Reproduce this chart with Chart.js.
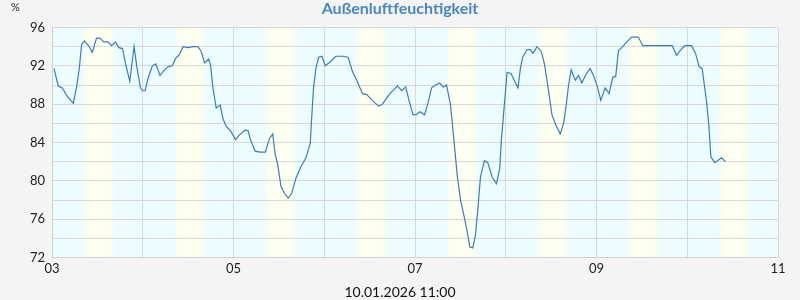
<!DOCTYPE html>
<html>
<head>
<meta charset="utf-8">
<script src="https://cdn.jsdelivr.net/npm/chart.js@4"></script>
<style>
  html, body { margin: 0; padding: 0; background: #f4f4f4; }
  #wrap { width: 800px; height: 300px; }
</style>
</head>
<body>
<div id="wrap"><canvas id="chart"></canvas></div>
<script>
// hours since 03.01.2026 00:00
const hours = [0.53,1.67,2.73,4.04,5.63,6.51,7.21,7.82,8.53,9.85,
  10.64,11.78,12.66,13.71,14.86,15.74,16.79,17.67,18.64,19.52,
  20.57,21.19,21.71,22.51,23.38,23.91,24.62,25.41,26.55,27.43,
  28.57,29.8,30.68,31.82,32.7,33.58,34.64,35.96,37.27,38.59,
  39.47,40.35,41.41,41.93,42.55,43.43,44.48,45.19,46.07,47.39,
  48.53,49.58,51.16,51.87,52.48,53.71,55.03,56.44,57.49,58.37,
  59.0,59.69,60.57,61.45,62.51,63.38,64.53,65.84,67.16,68.3,
  68.65,69.18,69.79,70.5,71.38,72.26,73.57,75.07,76.83,78.32,
  79.46,80.61,82.1,83.24,84.74,86.32,87.37,89.13,91.33,92.48,
  93.53,94.41,95.47,96.35,97.31,98.54,99.42,100.39,101.44,102.5,
  103.46,104.34,105.4,106.28,107.16,108.04,109.09,109.8,110.5,111.29,
  112.0,112.61,113.31,114.37,115.25,116.39,117.54,118.41,118.85,119.47,
  120.35,121.4,122.37,123.25,123.86,124.48,125.62,126.5,127.2,128.25,
  129.4,130.28,131.16,132.21,133.27,134.41,135.29,135.99,136.61,137.31,
  138.37,139.25,140.12,141.18,142.33,143.2,144.26,145.14,146.28,147.33,
  148.3,149.09,149.8,150.68,152.0,153.31,155.07,156.21,157.71,160.34,
  164.04,165.18,166.32,167.38,169.14,170.19,171.16,171.95,173.09,173.71,
  174.24,175.29,177.05,178.1];
const humidity = [91.7,89.9,89.7,88.8,88.1,89.8,91.7,94.2,94.6,94.0,
  93.4,94.9,94.9,94.5,94.5,94.1,94.5,93.9,93.8,92.1,
  90.4,92.4,94.0,91.7,89.7,89.4,89.4,90.7,92.0,92.2,
  91.0,91.6,91.9,92.0,92.8,93.1,94.0,93.9,94.0,94.0,
  93.5,92.3,92.7,92.1,89.7,87.6,87.9,86.5,85.7,85.1,
  84.3,84.8,85.3,85.2,84.3,83.1,83.0,83.0,84.4,84.9,
  82.8,81.7,79.4,78.7,78.2,78.7,80.3,81.5,82.4,83.9,
  86.4,89.8,91.7,92.9,93.0,92.0,92.4,93.0,93.0,92.9,
  91.4,90.5,89.1,89.0,88.4,87.8,88.0,89.0,89.9,89.4,
  89.8,88.4,86.9,86.9,87.2,86.9,88.1,89.7,90.0,90.2,
  89.8,90.0,87.9,84.3,80.6,78.0,76.1,74.7,73.1,73.0,
  74.4,77.0,80.4,82.1,81.9,80.4,79.7,81.3,84.3,87.2,
  91.3,91.2,90.4,89.7,91.7,92.9,93.7,93.7,93.3,94.0,
  93.5,92.1,89.8,86.9,85.8,84.9,86.0,87.9,90.0,91.6,
  90.5,91.0,90.2,91.1,91.7,91.0,89.8,88.4,89.7,89.1,
  90.8,90.9,93.6,93.9,94.5,95.0,95.0,94.1,94.1,94.1,
  94.1,93.1,93.7,94.1,94.1,93.3,91.9,91.7,88.3,85.8,
  82.5,81.9,82.4,82.0];
const firstDay = 3;
const dayCount = 8;
const sunrise = 8.7;
const sunset = 16.1;
const titleText = "Außenluftfeuchtigkeit";
const stampText = "10.01.2026 11:00";

const points = hours.map((h, i) => ({ x: h, y: humidity[i] }));

// day / night shading behind the grid, plus the texts around the plot
const dayBands = {
  id: "dayBands",
  beforeDraw(chart) {
    const { ctx, chartArea: a, scales: { x } } = chart;
    ctx.save();
    ctx.fillStyle = "#edfcfe";
    ctx.fillRect(a.left, a.top, a.right - a.left, a.bottom - a.top);
    const fade = 0.7;
    for (let d = 0; d < dayCount; d++) {
      const x0 = x.getPixelForValue(d * 24 + sunrise - fade);
      const x1 = x.getPixelForValue(d * 24 + sunset + fade);
      const f = (x.getPixelForValue(fade) - x.getPixelForValue(0)) / (x1 - x0);
      const g = ctx.createLinearGradient(x0, 0, x1, 0);
      g.addColorStop(0, "rgba(253,255,240,0)");
      g.addColorStop(f * 2, "#fdfff0");
      g.addColorStop(1 - f * 2, "#fdfff0");
      g.addColorStop(1, "rgba(253,255,240,0)");
      ctx.fillStyle = g;
      const l = Math.max(x0, a.left), r = Math.min(x1, a.right);
      if (r > l) ctx.fillRect(l, a.top, r - l, a.bottom - a.top);
    }
    ctx.restore();
  },
  afterDraw(chart) {
    const ctx = chart.ctx;
    ctx.save();
    ctx.textBaseline = "middle";
    ctx.textAlign = "left";
    ctx.font = "11px Lato";
    ctx.fillStyle = "#222";
    ctx.fillText("%", 11, 7);
    ctx.textAlign = "center";
    ctx.font = "bold 16px Lato";
    ctx.fillStyle = "#4a86c0";
    ctx.fillText(titleText, 400, 9);
    ctx.font = "14px Lato";
    ctx.fillStyle = "#111";
    ctx.fillText(stampText, 400, 292);
    ctx.restore();
  }
};

new Chart(document.getElementById("chart"), {
  type: "line",
  data: {
    datasets: [{
      label: titleText,
      data: points,
      borderColor: "#3a7dbd",
      borderWidth: 1.2,
      pointRadius: 0,
      tension: 0,
      fill: false
    }]
  },
  options: {
    responsive: true,
    maintainAspectRatio: false,
    animation: false,
    layout: { padding: { left: 0, right: 22, top: 27.5, bottom: 16.8 } },
    plugins: {
      legend: { display: false },
      tooltip: { enabled: false }
    },
    scales: {
      x: {
        type: "linear",
        min: 0,
        max: dayCount * 24,
        afterFit: (s) => { s.height = 25.7; },
        afterBuildTicks: (s) => {
          s.ticks = [];
          for (let d = 0; d <= dayCount; d++) s.ticks.push({ value: d * 24 });
        },
        ticks: {
          color: "#222",
          font: { family: "Lato", size: 13 },
          padding: 4,
          maxRotation: 0,
          autoSkip: false,
          callback: (v) => {
            const day = firstDay + v / 24;
            return day % 2 === 1 ? String(day).padStart(2, "0") : "";
          }
        },
        grid: { color: "#d8d8d8", drawTicks: false },
        border: { color: "#d0d0d0" }
      },
      y: {
        min: 72,
        max: 96,
        afterFit: (s) => { s.width = 52; },
        ticks: {
          stepSize: 2,
          color: "#222",
          font: { family: "Lato", size: 13 },
          padding: 7,
          callback: (v) => (v % 4 === 0 ? v : "")
        },
        grid: { color: "#d8d8d8", drawTicks: false },
        border: { color: "#d0d0d0" }
      }
    }
  },
  plugins: [dayBands]
});
</script>
</body>
</html>
